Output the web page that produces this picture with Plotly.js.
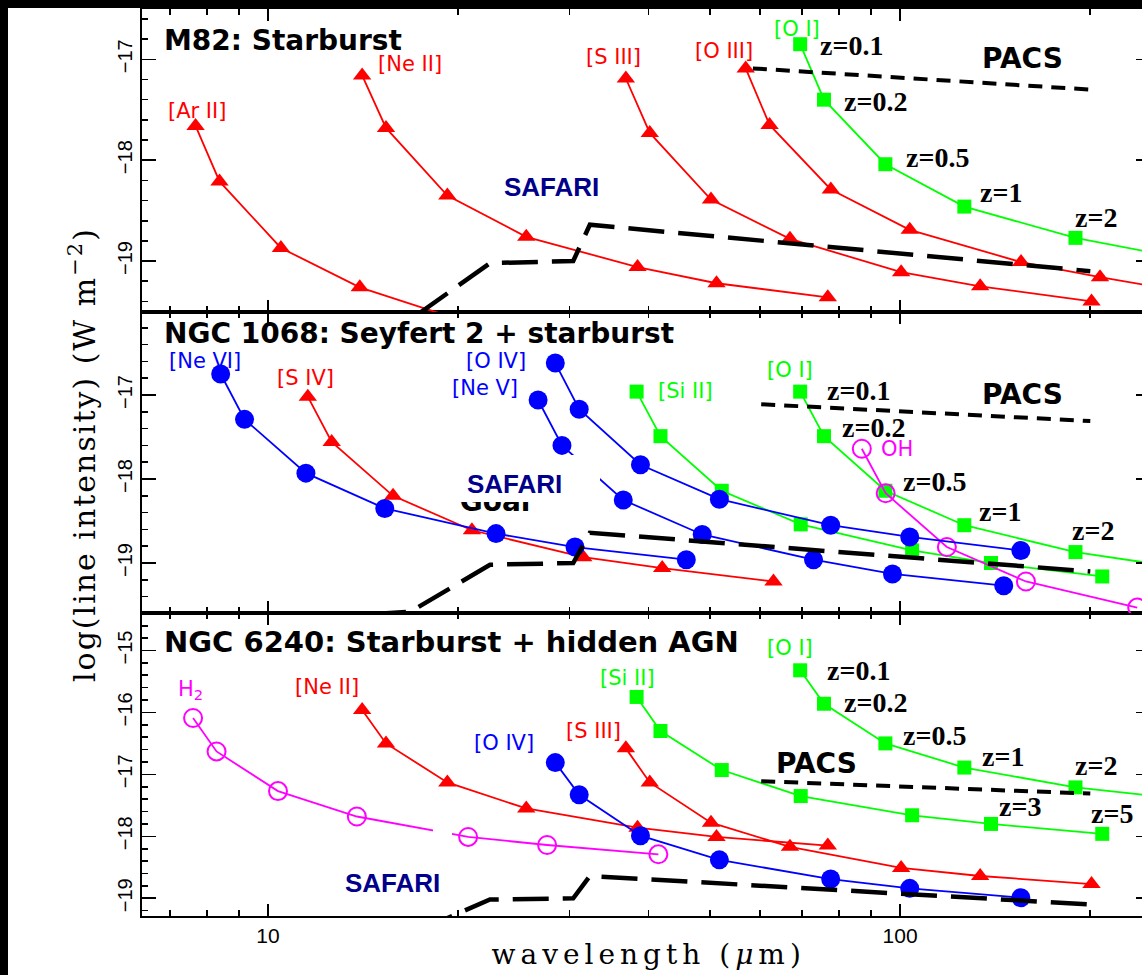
<!DOCTYPE html>
<html><head><meta charset="utf-8">
<script src="https://cdn.plot.ly/plotly-3.0.1.min.js"></script>
<style>
html,body{margin:0;padding:0;overflow:hidden;background:#fff;}
#chart{width:1160px;height:975px;}
g.annotation[data-index="0"] text{letter-spacing:5px;}
g.annotation[data-index="1"] text{letter-spacing:2px;}
</style></head><body><div id="chart"></div>
<script>
// Observed wavelength (micron) of each line at z = 0.1, 0.2, 0.5, 1, 2, 3, 5 and log line intensity (W m^-2)
// ---------- M82: Starburst (top panel) ----------
const m82_ArII_wl   = [7.68, 8.38, 10.48, 13.97, 20.96];
const m82_ArII_flux = [-17.66, -18.21, -18.87, -19.26, -19.62];
const m82_NeII_wl   = [14.09, 15.37, 19.22, 25.62, 38.43, 51.24, 76.86];
const m82_NeII_flux = [-17.16, -17.68, -18.35, -18.76, -19.06, -19.22, -19.36];
const m82_SIII_wl   = [36.83, 40.18, 50.22, 66.96, 100.4, 133.9, 200.9];
const m82_SIII_flux = [-17.19, -17.73, -18.39, -18.78, -19.11, -19.25, -19.40];
const m82_OIII_wl   = [56.99, 62.17, 77.72, 103.6, 155.4, 207.2, 310.9];
const m82_OIII_flux = [-17.09, -17.65, -18.29, -18.69, -19.01, -19.16, -19.35];
const m82_OI_wl     = [69.5, 75.8, 94.8, 126.4, 189.5, 252.7];
const m82_OI_flux   = [-16.85, -17.40, -18.04, -18.46, -18.77, -18.92];
// ---------- NGC 1068: Seyfert 2 + starburst (middle panel) ----------
const n1068_NeVI_wl   = [8.415, 9.18, 11.48, 15.3, 22.95, 30.6, 45.9];
const n1068_NeVI_flux = [-16.75, -17.29, -17.93, -18.35, -18.65, -18.81, -18.96];
const n1068_SIV_wl    = [11.56, 12.61, 15.77, 21.02, 31.53, 42.04, 63.06];
const n1068_SIV_flux  = [-17.02, -17.56, -18.20, -18.61, -18.93, -19.06, -19.22];
const n1068_NeV_wl    = [26.75, 29.18, 36.48, 48.64, 72.96, 97.28, 145.9];
const n1068_NeV_flux  = [-17.06, -17.60, -18.25, -18.66, -18.96, -19.13, -19.27];
const n1068_OIV_wl    = [28.48, 31.07, 38.84, 51.78, 77.67, 103.6, 155.3];
const n1068_OIV_flux  = [-16.62, -17.17, -17.83, -18.24, -18.55, -18.69, -18.85];
const n1068_SiII_wl   = [38.3, 41.78, 52.23, 69.64, 104.5, 139.3, 208.9];
const n1068_SiII_flux = [-16.96, -17.49, -18.14, -18.54, -18.85, -19.00, -19.16];
const n1068_OI_wl     = [69.5, 75.8, 94.8, 126.4, 189.5, 252.7];
const n1068_OI_flux   = [-16.96, -17.49, -18.14, -18.55, -18.87, -19.01];
const n1068_OH_wl     = [87.0, 94.9, 118.6, 158.2, 237.3];
const n1068_OH_flux   = [-17.64, -18.17, -18.81, -19.22, -19.53];
// ---------- NGC 6240: Starburst + hidden AGN (bottom panel) ----------
const n6240_H2_wl     = [7.61, 8.29, 10.37, 13.82, 20.73, 27.64, 41.46];
const n6240_H2_flux   = [-16.09, -16.63, -17.27, -17.68, -18.01, -18.14, -18.29];
const n6240_NeII_wl   = [14.09, 15.37, 19.22, 25.62, 38.43, 51.24, 76.86];
const n6240_NeII_flux = [-15.96, -16.50, -17.13, -17.55, -17.86, -18.01, -18.15];
const n6240_OIV_wl    = [28.48, 31.07, 38.84, 51.78, 77.67, 103.6, 155.3];
const n6240_OIV_flux  = [-16.81, -17.33, -17.99, -18.38, -18.69, -18.84, -18.99];
const n6240_SIII_wl   = [36.83, 40.18, 50.22, 66.96, 100.4, 133.9, 200.9];
const n6240_SIII_flux = [-16.58, -17.13, -17.78, -18.17, -18.51, -18.64, -18.77];
const n6240_SiII_wl   = [38.3, 41.78, 52.23, 69.64, 104.5, 139.3, 208.9];
const n6240_SiII_flux = [-15.75, -16.30, -16.93, -17.35, -17.66, -17.80, -17.96];
const n6240_OI_wl     = [69.5, 75.8, 94.8, 126.4, 189.5, 252.7];
const n6240_OI_flux   = [-15.32, -15.86, -16.50, -16.89, -17.21, -17.35];
// ---------- instrument sensitivity limits ----------
const pacs_top_wl = [58.5, 200];
const pacs_top_flux = [-17.09, -17.30];
const pacs_wl = [60.3, 200];
const pacs_flux = [-17.11, -17.31];
const safari_wl = [14.5, 16.8, 22.45, 30.4, 32.3, 200];
const safari_flux = [-19.61, -19.58, -19.02, -19.00, -18.64, -19.10];
// ---------- axis ticks ----------
const xTickVals = [10, 100];
const xTickText = ['10', '100'];
const xMinorVals = [7, 8, 9, 20, 30, 40, 50, 60, 70, 80, 90, 200];

const RED = '#ff0000', BLUE = '#0000ff', GREEN = '#00ff00', MAG = '#ff00ff';

function series(xa, ya, wl, fl, color, symbol, size) {
  const open = symbol.indexOf('open') >= 0;
  return {type: 'scatter', mode: 'lines+markers', x: wl, y: fl, xaxis: xa, yaxis: ya,
    line: {color: color, width: 1.8},
    marker: {symbol: symbol, size: size, color: color, line: {width: open ? 2 : 0, color: color}},
    showlegend: false, hoverinfo: 'skip'};
}
function dashed(xa, ya, wl, fl, width, dash) {
  return {type: 'scatter', mode: 'lines', x: wl, y: fl, xaxis: xa, yaxis: ya,
    line: {color: '#000', width: width, dash: dash}, showlegend: false, hoverinfo: 'skip'};
}
const TRI = 'triangle-up', CIR = 'circle', SQ = 'square', OC = 'circle-open';
const traces = [
  // top
  series('x3', 'y3', m82_ArII_wl, m82_ArII_flux, RED, TRI, 16),
  series('x3', 'y3', m82_NeII_wl, m82_NeII_flux, RED, TRI, 16),
  series('x3', 'y3', m82_SIII_wl, m82_SIII_flux, RED, TRI, 16),
  series('x3', 'y3', m82_OIII_wl, m82_OIII_flux, RED, TRI, 16),
  series('x3', 'y3', m82_OI_wl, m82_OI_flux, GREEN, SQ, 14),
  // middle
  {type: 'scatter', mode: 'text', x: [22.87], y: [-18.30], xaxis: 'x2', yaxis: 'y2', text: ['<b>Goal</b>'],
   textfont: {family: 'DejaVu Sans', size: 28, color: '#000'}, showlegend: false, hoverinfo: 'skip'},
  series('x2', 'y2', n1068_SIV_wl, n1068_SIV_flux, RED, TRI, 16),
  series('x2', 'y2', n1068_SiII_wl, n1068_SiII_flux, GREEN, SQ, 14),
  series('x2', 'y2', n1068_OI_wl, n1068_OI_flux, GREEN, SQ, 14),
  series('x2', 'y2', n1068_OH_wl, n1068_OH_flux, MAG, OC, 18),
  series('x2', 'y2', n1068_NeVI_wl, n1068_NeVI_flux, BLUE, CIR, 19),
  series('x2', 'y2', n1068_NeV_wl, n1068_NeV_flux, BLUE, CIR, 19),
  series('x2', 'y2', n1068_OIV_wl, n1068_OIV_flux, BLUE, CIR, 19),
  // bottom
  series('x', 'y', n6240_H2_wl, n6240_H2_flux, MAG, OC, 18),
  series('x', 'y', n6240_NeII_wl, n6240_NeII_flux, RED, TRI, 16),
  series('x', 'y', n6240_SIII_wl, n6240_SIII_flux, RED, TRI, 16),
  series('x', 'y', n6240_SiII_wl, n6240_SiII_flux, GREEN, SQ, 14),
  series('x', 'y', n6240_OI_wl, n6240_OI_flux, GREEN, SQ, 14),
  series('x', 'y', n6240_OIV_wl, n6240_OIV_flux, BLUE, CIR, 19),
  // instrument limits
  dashed('x3', 'y3', pacs_top_wl, pacs_top_flux, 4, '14px,9px'),
  dashed('x2', 'y2', pacs_wl, pacs_flux, 4, '14px,9px'),
  dashed('x', 'y', pacs_wl, pacs_flux, 4, '14px,9px'),
  dashed('x3', 'y3', safari_wl, safari_flux, 4.5, '36px,14px'),
  dashed('x2', 'y2', safari_wl, safari_flux, 4.5, '36px,14px'),
  dashed('x', 'y', safari_wl, safari_flux, 4.5, '36px,14px')
];

// ---------- layout geometry (pixels) ----------
const PL = 142, PW = 1008, PT = 9, PH = 907;
const fx = p => (p - PL) / PW;
const fy = p => (PT + PH - p) / PH;

function xax(anchor, labels) {
  return {type: 'log', range: [0.8006, 2.3955], anchor: anchor, domain: [0, 1],
    tickmode: 'array', tickvals: xTickVals, ticktext: xTickText, showticklabels: labels,
    ticks: 'inside', ticklen: 12, tickwidth: 1.6, tickcolor: '#000',
    minor: {tickmode: 'array', tickvals: xMinorVals, ticks: 'inside', ticklen: 6, tickwidth: 1.6, tickcolor: '#000'},
    showline: true, linecolor: '#000', linewidth: 2, mirror: 'allticks',
    showgrid: false, zeroline: false, ticklabelstandoff: 0,
    tickfont: {family: 'Liberation Sans', size: 21, color: '#000'}};
}
function yax(domain, range, tickvals, anchor) {
  return {domain: domain, range: range, anchor: anchor, tickmode: 'array', tickvals: tickvals,
    tickangle: -90, ticks: 'inside', ticklen: 14, tickwidth: 1.6, tickcolor: '#000',
    minor: {dtick: 0.2, tick0: 0, ticks: 'inside', ticklen: 6, tickwidth: 1.6, tickcolor: '#000'},
    showline: true, linecolor: '#000', linewidth: 2, mirror: 'allticks',
    showgrid: false, zeroline: false, ticklabelstandoff: 0,
    tickfont: {family: 'Liberation Sans', size: 20, color: '#000'}};
}
const yBottom = yax([0, fy(613)], [-19.286, -14.395], [-19, -18, -17, -16, -15], 'x');
const yMiddle = yax([fy(613), fy(312)], [-19.595, -16.012], [-19, -18, -17], 'x2');
const yTop = yax([fy(312), 1], [-19.505, -16.501], [-19, -18, -17], 'x3');

const annotations = [];
function A(text, x, y, font, xanchor, extra) {
  annotations.push(Object.assign({text: text, x: fx(x), y: fy(y), xref: 'paper', yref: 'paper',
    xanchor: xanchor || 'center', yanchor: 'middle', showarrow: false, borderpad: 0, font: font}, extra || {}));
}
const fTitle = {family: 'DejaVu Sans', size: 28, color: '#000'};
const fTitle2 = {family: 'DejaVu Sans', size: 29, color: '#000'};
const fLab = c => ({family: 'DejaVu Sans', size: 21, color: c});
const fZ = {family: 'Liberation Serif', size: 28, color: '#000'};
const fPacs = {family: 'DejaVu Sans', size: 28, color: '#000'};
const fSaf = {family: 'Liberation Sans', size: 26, color: '#00008b'};
const z = s => '<b>' + s + '</b>';

// axis titles (index 0 and 1, letter-spaced by CSS)
A('wavelength (<i>μ</i>m)', 648, 955, {family: 'DejaVu Serif', size: 28, color: '#000'});
A('log(line intensity) (W m<sup>−2</sup>)', 82, 455, {family: 'DejaVu Serif', size: 30, color: '#000'}, 'center', {textangle: -90});
// top panel
A('<b>M82: Starburst</b>', 163, 40, fTitle, 'left');
A('[Ar II]', 197, 111, fLab(RED));
A('[Ne II]', 410, 64, fLab(RED));
A('[S III]', 613, 57, fLab(RED));
A('[O III]', 724, 51, fLab(RED));
A('[O I]', 797, 29, fLab(GREEN));
A(z('z=0.1'), 819, 46, fZ, 'left');
A(z('z=0.2'), 843, 102, fZ, 'left');
A(z('z=0.5'), 905, 157, fZ, 'left');
A(z('z=1'), 979, 192, fZ, 'left');
A(z('z=2'), 1074, 217, fZ, 'left');
A('<b>PACS</b>', 1022, 58, fPacs);
A('<b>SAFARI</b>', 551, 187, fSaf);
// middle panel
A('<b>NGC 1068: Seyfert 2 + starburst</b>', 163, 333, fTitle, 'left');
A('[Ne VI]', 205, 361, fLab(BLUE));
A('[S IV]', 305, 378, fLab(RED));
A('[O IV]', 496, 361, fLab(BLUE));
A('[Ne V]', 485, 388, fLab(BLUE));
A('[Si II]', 685, 391, fLab(GREEN));
A('[O I]', 790, 370, fLab(GREEN));
A(z('z=0.1'), 826, 390, fZ, 'left');
A(z('z=0.2'), 841, 427, fZ, 'left');
A('OH', 880, 449, fLab(MAG), 'left');
A(z('z=0.5'), 902, 481, fZ, 'left');
A(z('z=1'), 978, 511, fZ, 'left');
A(z('z=2'), 1071, 530, fZ, 'left');
A('<b>PACS</b>', 1022, 394, fPacs);
A('<b>SAFARI</b>', 514, 484, fSaf);
// bottom panel
A('<b>NGC 6240: Starburst + hidden AGN</b>', 163, 642, fTitle2, 'left');
A('H<sub>2</sub>', 190, 690, fLab(MAG));
A('[Ne II]', 327, 687, fLab(RED));
A('[Si II]', 627, 678, fLab(GREEN));
A('[S III]', 593, 731, fLab(RED));
A('[O IV]', 504, 743, fLab(BLUE));
A('[O I]', 790, 648, fLab(GREEN));
A(z('z=0.1'), 826, 670, fZ, 'left');
A(z('z=0.2'), 843, 702, fZ, 'left');
A(z('z=0.5'), 902, 735, fZ, 'left');
A(z('z=1'), 981, 756, fZ, 'left');
A(z('z=2'), 1074, 765, fZ, 'left');
A(z('z=3'), 998, 806, fZ, 'left');
A(z('z=5'), 1090, 813, fZ, 'left');
A('<b>PACS</b>', 816, 763, fPacs);
A('<b>SAFARI</b>', 392, 883, fSaf);

function R(x0, y0, x1, y1, color) {
  return {type: 'rect', xref: 'paper', yref: 'paper', x0: fx(x0), x1: fx(x1), y0: fy(y1), y1: fy(y0),
    fillcolor: color, line: {width: 0}, layer: 'above'};
}
const shapes = [
  R(452, 455, 600, 502, '#fff'),
  R(433, 822, 452, 842, '#fff'),
  R(-20, -20, 1200, 8, '#000'),
  R(-20, -20, 8, 1000, '#000')
];

const layout = {
  width: 1160, height: 975,
  margin: {l: PL, r: 1160 - PL - PW, t: PT, b: 975 - PT - PH},
  paper_bgcolor: '#fff', plot_bgcolor: '#fff',
  showlegend: false,
  xaxis: xax('y', true), xaxis2: xax('y2', false), xaxis3: xax('y3', false),
  yaxis: yBottom, yaxis2: yMiddle, yaxis3: yTop,
  annotations: annotations, shapes: shapes
};
Plotly.newPlot('chart', traces, layout, {displayModeBar: false, staticPlot: true});
</script></body></html>
